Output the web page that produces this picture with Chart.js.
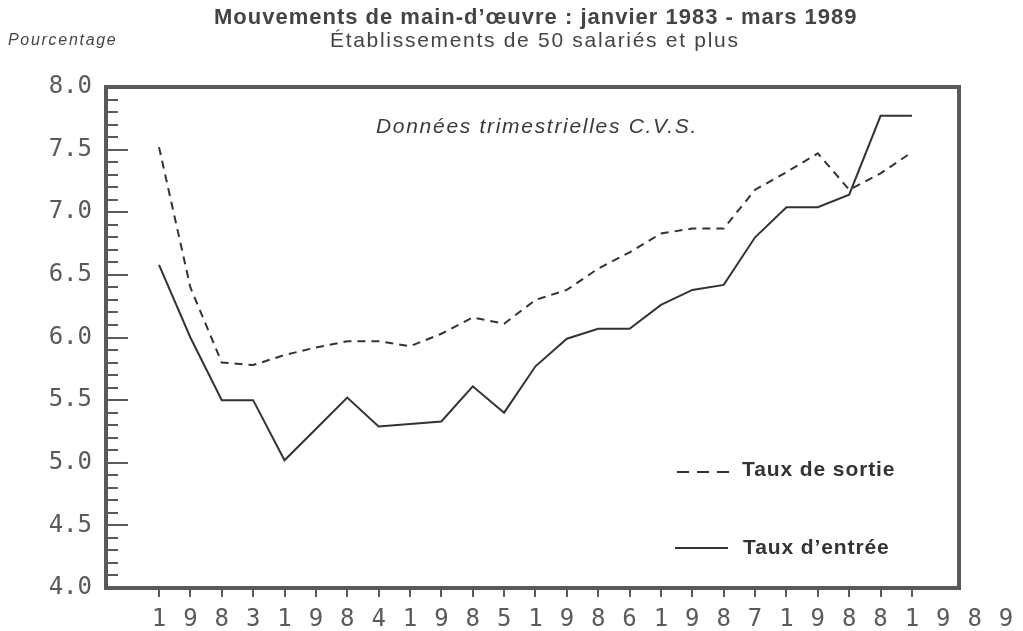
<!DOCTYPE html>
<html>
<head>
<meta charset="utf-8">
<script src="https://cdn.jsdelivr.net/npm/chart.js@4/dist/chart.umd.min.js"></script>
<style>
    body { margin: 0; background: #fff; }
    #wrap { position: relative; width: 1023px; height: 631px; }
</style>
</head>
<body>
<div id="wrap"><canvas id="lineChart"></canvas></div>
<script>
// Années affichées sous l'axe (un chiffre par trimestre)
var annees = ['1983', '1984', '1985', '1986', '1987', '1988', '1989'];

// Trimestres : T1 1983 -> T1 1989
var trimestres = [
    '1983T1', '1983T2', '1983T3', '1983T4',
    '1984T1', '1984T2', '1984T3', '1984T4',
    '1985T1', '1985T2', '1985T3', '1985T4',
    '1986T1', '1986T2', '1986T3', '1986T4',
    '1987T1', '1987T2', '1987T3', '1987T4',
    '1988T1', '1988T2', '1988T3', '1988T4',
    '1989T1'
];

// Taux de sortie (pointillés)
var tauxSortie = [7.52, 6.40, 5.80, 5.78, 5.86, 5.92, 5.97, 5.97, 5.93, 6.03,
    6.16, 6.11, 6.30, 6.38, 6.55, 6.68, 6.83, 6.87, 6.87, 7.18,
    7.32, 7.47, 7.18, 7.31, 7.48];

// Taux d'entrée (trait plein)
var tauxEntree = [6.58, 6.00, 5.50, 5.50, 5.02, 5.27, 5.52, 5.29, 5.31, 5.33,
    5.61, 5.40, 5.77, 5.99, 6.07, 6.07, 6.26, 6.38, 6.42, 6.80,
    7.04, 7.04, 7.14, 7.77, 7.77];

var yMin = 4.0, yMax = 8.0;

var chiffres = annees.join('').split('');
var monoFont = '"DejaVu Sans Mono", "Liberation Mono", monospace';
var sansFont = '"Liberation Sans", Arial, sans-serif';
var inkColor = '#5a5a5a';

// Texte avec espacement des lettres (rendu du document scanné)
function drawText(ctx, text, x, y, font, spacing) {
    ctx.font = font;
    ctx.letterSpacing = spacing + 'px';
    ctx.fillText(text, x, y);
    ctx.letterSpacing = '0px';
}

// Function to draw frame, minor ticks and the texts
var decorPlugin = {
    id: 'decor',
    afterDraw: function (chart) {
        var ctx = chart.ctx;
        var a = chart.chartArea;
        var xs = chart.scales.x;
        var ys = chart.scales.y;
        ctx.save();

        // Graduations de l'axe vertical (vers l'intérieur)
        ctx.strokeStyle = inkColor;
        ctx.lineWidth = 2;
        for (var v = yMin * 10; v <= yMax * 10; v++) {
            var py = Math.round(ys.getPixelForValue(v / 10));
            var len = (v % 5 === 0) ? 22 : 12;
            ctx.beginPath();
            ctx.moveTo(a.left, py);
            ctx.lineTo(a.left + len, py);
            ctx.stroke();
        }

        // Cadre
        ctx.lineWidth = 4;
        ctx.strokeRect(a.left, a.top, a.right - a.left, a.bottom - a.top);

        // Chiffres restants de 1989, au-delà du dernier trimestre
        ctx.fillStyle = inkColor;
        ctx.font = '24px ' + monoFont;
        ctx.textAlign = 'center';
        ctx.textBaseline = 'middle';
        var yLab = a.bottom + 9 + 8 + 24 * 1.2 / 2;
        for (var i = trimestres.length; i < chiffres.length; i++) {
            ctx.fillText(chiffres[i], xs.getPixelForValue(i), yLab);
        }

        // Titres
        ctx.fillStyle = '#444';
        ctx.textAlign = 'left';
        drawText(ctx, 'Mouvements de main-d\u2019\u0153uvre : janvier 1983 - mars 1989', 214, 18,
            'bold 22px ' + sansFont, 1);
        drawText(ctx, '\u00c9tablissements de 50 salari\u00e9s et plus', 330, 41,
            '21px ' + sansFont, 1.7);
        drawText(ctx, 'Pourcentage', 8, 41, 'italic 16px ' + sansFont, 1.7);

        ctx.fillStyle = '#3a3a3a';
        drawText(ctx, 'Donn\u00e9es trimestrielles C.V.S.', 376, 127, 'italic 21px ' + sansFont, 1.7);

        // Légende
        ctx.strokeStyle = '#333';
        ctx.lineWidth = 2;
        ctx.setLineDash([12, 8]);
        ctx.beginPath();
        ctx.moveTo(677, 472);
        ctx.lineTo(734, 472);
        ctx.stroke();
        ctx.setLineDash([]);
        ctx.beginPath();
        ctx.moveTo(675, 548);
        ctx.lineTo(728, 548);
        ctx.stroke();

        ctx.fillStyle = '#333';
        drawText(ctx, 'Taux de sortie', 742, 470, 'bold 21px ' + sansFont, 0.9);
        drawText(ctx, 'Taux d\u2019entr\u00e9e', 743, 548, 'bold 21px ' + sansFont, 0.9);

        ctx.restore();
    }
};

function generateLineChart() {
    var ctx = document.getElementById('lineChart').getContext('2d');

    new Chart(ctx, {
        type: 'line',
        data: {
            datasets: [{
                label: 'Taux de sortie',
                data: tauxSortie.map((v, i) => ({ x: i, y: v })),
                borderColor: '#333',
                borderWidth: 2,
                borderDash: [8, 6],
                pointRadius: 0,
                tension: 0,
                fill: false
            }, {
                label: 'Taux d\u2019entr\u00e9e',
                data: tauxEntree.map((v, i) => ({ x: i, y: v })),
                borderColor: '#333',
                borderWidth: 2,
                pointRadius: 0,
                tension: 0,
                fill: false
            }]
        },
        options: {
            responsive: true,
            maintainAspectRatio: false,
            animation: false,
            layout: { padding: { top: 87, right: 64, bottom: 0, left: 0 } },
            plugins: {
                legend: { display: false },
                tooltip: { enabled: false }
            },
            scales: {
                x: {
                    type: 'linear',
                    min: -1.69,
                    max: 25.5,
                    afterBuildTicks: function (scale) {
                        scale.ticks = trimestres.map((t, i) => ({ value: i }));
                    },
                    afterFit: function (scale) { scale.height = 43; },
                    ticks: {
                        autoSkip: false,
                        maxRotation: 0,
                        padding: 8,
                        color: inkColor,
                        font: { family: monoFont, size: 24 },
                        callback: function (v) { return chiffres[v]; }
                    },
                    grid: {
                        drawOnChartArea: false,
                        drawTicks: true,
                        tickLength: 9,
                        color: inkColor,
                        lineWidth: 2
                    },
                    border: { display: false }
                },
                y: {
                    min: yMin,
                    max: yMax,
                    afterFit: function (scale) { scale.width = 106; },
                    ticks: {
                        stepSize: 0.5,
                        padding: 14,
                        color: inkColor,
                        font: { family: monoFont, size: 24 },
                        callback: function (v) { return v.toFixed(1); }
                    },
                    grid: { display: false, drawTicks: false },
                    border: { display: false }
                }
            }
        },
        plugins: [decorPlugin]
    });
}

generateLineChart();
</script>
</body>
</html>
